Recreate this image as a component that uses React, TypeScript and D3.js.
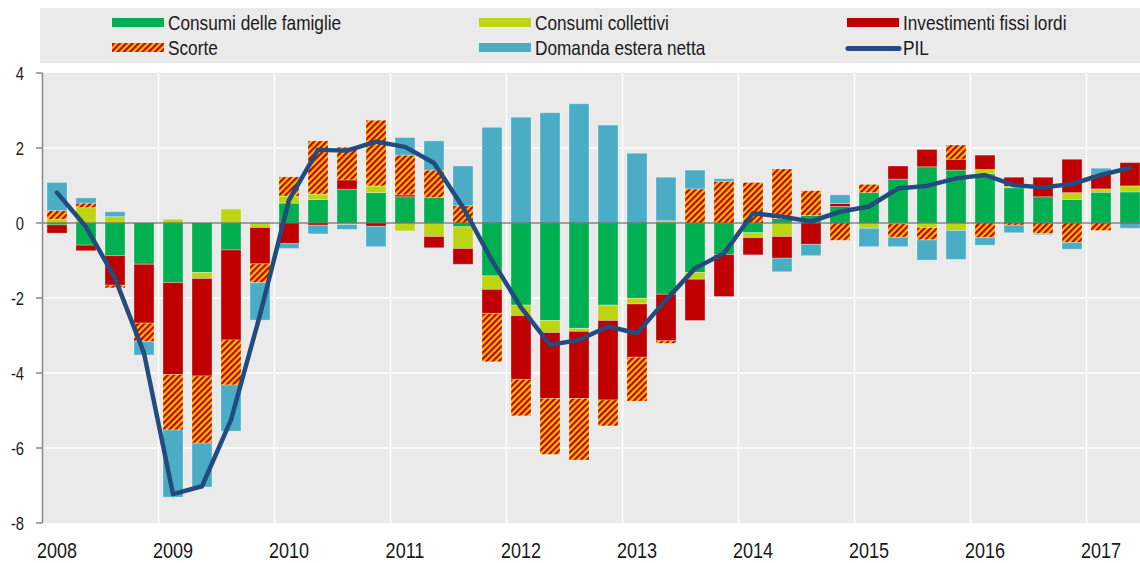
import React from 'react';
import * as d3 from 'd3';

// Quarters 2008Q1 - 2017Q2
const quarters = [
  '2008T1', '2008T2', '2008T3', '2008T4',
  '2009T1', '2009T2', '2009T3', '2009T4',
  '2010T1', '2010T2', '2010T3', '2010T4',
  '2011T1', '2011T2', '2011T3', '2011T4',
  '2012T1', '2012T2', '2012T3', '2012T4',
  '2013T1', '2013T2', '2013T3', '2013T4',
  '2014T1', '2014T2', '2014T3', '2014T4',
  '2015T1', '2015T2', '2015T3', '2015T4',
  '2016T1', '2016T2', '2016T3', '2016T4',
  '2017T1', '2017T2',
];

// contributions to growth (percentage points)
const famiglie = [
  -0.05, -0.59, -0.87, -1.1, -1.59, -1.32, -0.72, -0.02,
  0.53, 0.63, 0.9, 0.81, 0.7, 0.68, -0.1, -1.41,
  -2.19, -2.6, -2.81, -2.19, -2.01, -1.9, -1.32, -0.84,
  -0.26, 0.12, 0.2, 0.44, 0.81, 1.17, 1.5, 1.41,
  1.31, 0.94, 0.7, 0.63, 0.82, 0.83,
];
const collettivi = [
  0.1, 0.41, 0.17, 0, 0.1, -0.16, 0.37, -0.1,
  0.19, 0.14, -0.04, 0.18, -0.21, -0.36, -0.58, -0.36,
  -0.28, -0.32, -0.08, -0.41, -0.15, 0.06, -0.18, 0,
  -0.13, -0.36, 0, 0, -0.14, -0.02, -0.12, -0.2,
  0.12, 0.04, 0, 0.18, 0.09, 0.16,
];
const investimenti = [
  -0.22, -0.15, -0.79, -1.57, -2.45, -2.6, -2.4, -0.97,
  -0.55, -0.06, 0.25, -0.09, 0.05, -0.3, -0.42, -0.64,
  -1.7, -1.76, -1.79, -2.12, -1.42, -1.24, -1.1, -1.12,
  -0.46, -0.58, -0.57, 0.08, 0, 0.35, 0.46, 0.29,
  0.38, 0.24, 0.52, 0.89, 0.39, 0.62,
];
const scorte = [
  0.23, 0.12, -0.07, -0.49, -1.48, -1.79, -1.2, -0.5,
  0.51, 1.42, 0.87, 1.75, 1.06, 0.73, 0.46, -1.29,
  -0.97, -1.49, -1.64, -0.69, -1.17, -0.07, 0.91, 1.11,
  1.08, 1.32, 0.66, -0.46, 0.22, -0.36, -0.33, 0.38,
  -0.39, -0.06, -0.28, -0.52, -0.2, 0,
];
const esteraNetta = [
  0.75, 0.14, 0.13, -0.36, -1.79, -1.17, -1.23, -1.0,
  -0.13, -0.23, -0.13, -0.54, 0.47, 0.78, 1.06, 2.55,
  2.82, 2.94, 3.18, 2.61, 1.86, 1.16, 0.5, 0.07,
  0, -0.36, -0.3, 0.23, -0.49, -0.25, -0.54, -0.77,
  -0.2, -0.2, -0.03, -0.18, 0.16, -0.14,
];
const pil = [
  0.81, -0.1, -1.47, -3.47, -7.23, -7.02, -5.25, -2.45,
  0.61, 1.95, 1.93, 2.17, 2.03, 1.6, 0.42, -1.0,
  -2.25, -3.25, -3.12, -2.76, -2.94, -2.05, -1.21, -0.81,
  0.26, 0.17, 0.04, 0.3, 0.44, 0.92, 0.99, 1.19,
  1.28, 1.01, 0.95, 1.04, 1.28, 1.47,
];

const yearLabels = ['2008', '2009', '2010', '2011', '2012', '2013', '2014', '2015', '2016', '2017'];
const yTicks = [-8, -6, -4, -2, 0, 2, 4];

const keys = ['famiglie', 'collettivi', 'investimenti', 'scorte', 'estera'];
const names: Record<string, string> = {
  famiglie: 'Consumi delle famiglie',
  collettivi: 'Consumi collettivi',
  investimenti: 'Investimenti fissi lordi',
  scorte: 'Scorte',
  estera: 'Domanda estera netta',
};
const fills: Record<string, string> = {
  famiglie: '#00b050',
  collettivi: '#bcd613',
  investimenti: '#c00000',
  scorte: 'url(#scorte-hatch)',
  estera: '#4bacc6',
};

const font = "'Liberation Sans', Arial, sans-serif";
const bg = '#eaeaea';
const ink = '#1a1a1a';

// Arial squeezed horizontally to look like Arial Narrow
const NarrowText = ({
  x,
  y,
  size,
  anchor = 'start',
  children,
}: {
  x: number;
  y: number;
  size: number;
  anchor?: string;
  children: React.ReactNode;
}) => (
  <g transform={`translate(${x},${y}) scale(0.82,1)`}>
    <text fontSize={size} textAnchor={anchor} fill={ink}>
      {children}
    </text>
  </g>
);

export default function App() {
  const width = 1140;
  const height = 563;

  // scales
  const x = d3
    .scaleBand<string>()
    .domain(quarters)
    .range([42.5, 42.5 + 29 * quarters.length])
    .paddingInner(0.31)
    .paddingOuter(0.155);
  const y = d3.scaleLinear().domain([-8, 4]).range([523, 73]);

  const rows = quarters.map((q, i) => ({
    q,
    famiglie: famiglie[i],
    collettivi: collettivi[i],
    investimenti: investimenti[i],
    scorte: scorte[i],
    estera: esteraNetta[i],
  }));
  const stacked = d3
    .stack<any>()
    .keys(keys)
    .offset(d3.stackOffsetDiverging)(rows);

  const cx = (q: string) => (x(q) as number) + x.bandwidth() / 2;
  const gap = (x.step() - x.bandwidth()) / 2;

  const pilLine = d3
    .line<number>()
    .x((_, i) => cx(quarters[i]))
    .y((d) => y(d));

  const yearQ1 = yearLabels.map((yr) => yr + 'T1');

  // legend layout
  const legend = [
    { key: 'famiglie', col: 0, row: 0 },
    { key: 'collettivi', col: 1, row: 0 },
    { key: 'investimenti', col: 2, row: 0 },
    { key: 'scorte', col: 0, row: 1 },
    { key: 'estera', col: 1, row: 1 },
    { key: 'pil', col: 2, row: 1 },
  ];
  const colX = [112, 479, 847];
  const rowY = [22.5, 47.5];

  return (
    <svg
      width={width}
      height={height}
      style={{ position: 'absolute', left: 0, top: 0, background: '#fff' }}
      fontFamily={font}
    >
      <defs>
        <pattern
          id="scorte-hatch"
          patternUnits="userSpaceOnUse"
          width={4.4}
          height={4.4}
          patternTransform="rotate(45)"
        >
          <rect width={4.4} height={4.4} fill="#ffc000" />
          <rect width={2.2} height={4.4} fill="#c00000" />
        </pattern>
      </defs>

      {/* legend box */}
      <rect x={40} y={8} width={width - 40} height={55} fill={bg} />
      {legend.map((l) => {
        const lx = colX[l.col];
        const ly = rowY[l.row];
        return (
          <g key={l.key}>
            {l.key === 'pil' ? (
              <line
                x1={lx + 1}
                x2={lx + 52}
                y1={ly + 1}
                y2={ly + 1}
                stroke="#234b7e"
                strokeWidth={5}
                strokeLinecap="round"
              />
            ) : (
              <rect x={lx} y={ly - 4.5} width={52} height={9} fill={fills[l.key]} />
            )}
            <NarrowText x={lx + 56} y={ly + 7.5} size={21}>
              {l.key === 'pil' ? 'PIL' : names[l.key]}
            </NarrowText>
          </g>
        );
      })}

      {/* plot background */}
      <rect x={42.5} y={73} width={width - 42.5} height={450} fill={bg} />

      {/* grid */}
      {yTicks
        .filter((t) => t !== 0 && t !== 4 && t !== -8)
        .map((t) => (
          <line key={t} x1={42.5} x2={width} y1={y(t)} y2={y(t)} stroke="#fff" strokeWidth={1.5} />
        ))}
      {yearQ1.slice(1).map((q) => (
        <line
          key={q}
          x1={(x(q) as number) - gap}
          x2={(x(q) as number) - gap}
          y1={73}
          y2={523}
          stroke="#fff"
          strokeWidth={1.5}
        />
      ))}

      {/* stacked bars */}
      {stacked.map((s) => (
        <g key={s.key} fill={fills[s.key]}>
          {s.map((d, i) =>
            d[1] - d[0] === 0 ? null : (
              <rect
                key={i}
                x={x(quarters[i])}
                width={x.bandwidth()}
                y={y(Math.max(d[0], d[1]))}
                height={Math.abs(y(d[0]) - y(d[1]))}
                stroke="rgba(255,255,255,0.3)"
                strokeWidth={1}
              />
            )
          )}
        </g>
      ))}

      {/* zero line */}
      <line x1={42.5} x2={width} y1={y(0)} y2={y(0)} stroke="#555" strokeWidth={1.2} />

      {/* y axis */}
      <line x1={42.5} x2={42.5} y1={73} y2={523} stroke="#888" strokeWidth={1.5} />
      {yTicks.map((t) => (
        <g key={t}>
          <line x1={36} x2={42.5} y1={y(t)} y2={y(t)} stroke="#888" strokeWidth={1.5} />
          <NarrowText x={24} y={y(t) + 6.5} size={18} anchor="end">
            {t}
          </NarrowText>
        </g>
      ))}

      {/* x labels */}
      {yearQ1.map((q, i) => (
        <NarrowText key={q} x={cx(q)} y={558} size={22} anchor="middle">
          {yearLabels[i]}
        </NarrowText>
      ))}

      {/* PIL */}
      <path
        d={pilLine(pil) || ''}
        fill="none"
        stroke="#234b7e"
        strokeWidth={4.5}
        strokeLinejoin="round"
        strokeLinecap="round"
      />
    </svg>
  );
}
